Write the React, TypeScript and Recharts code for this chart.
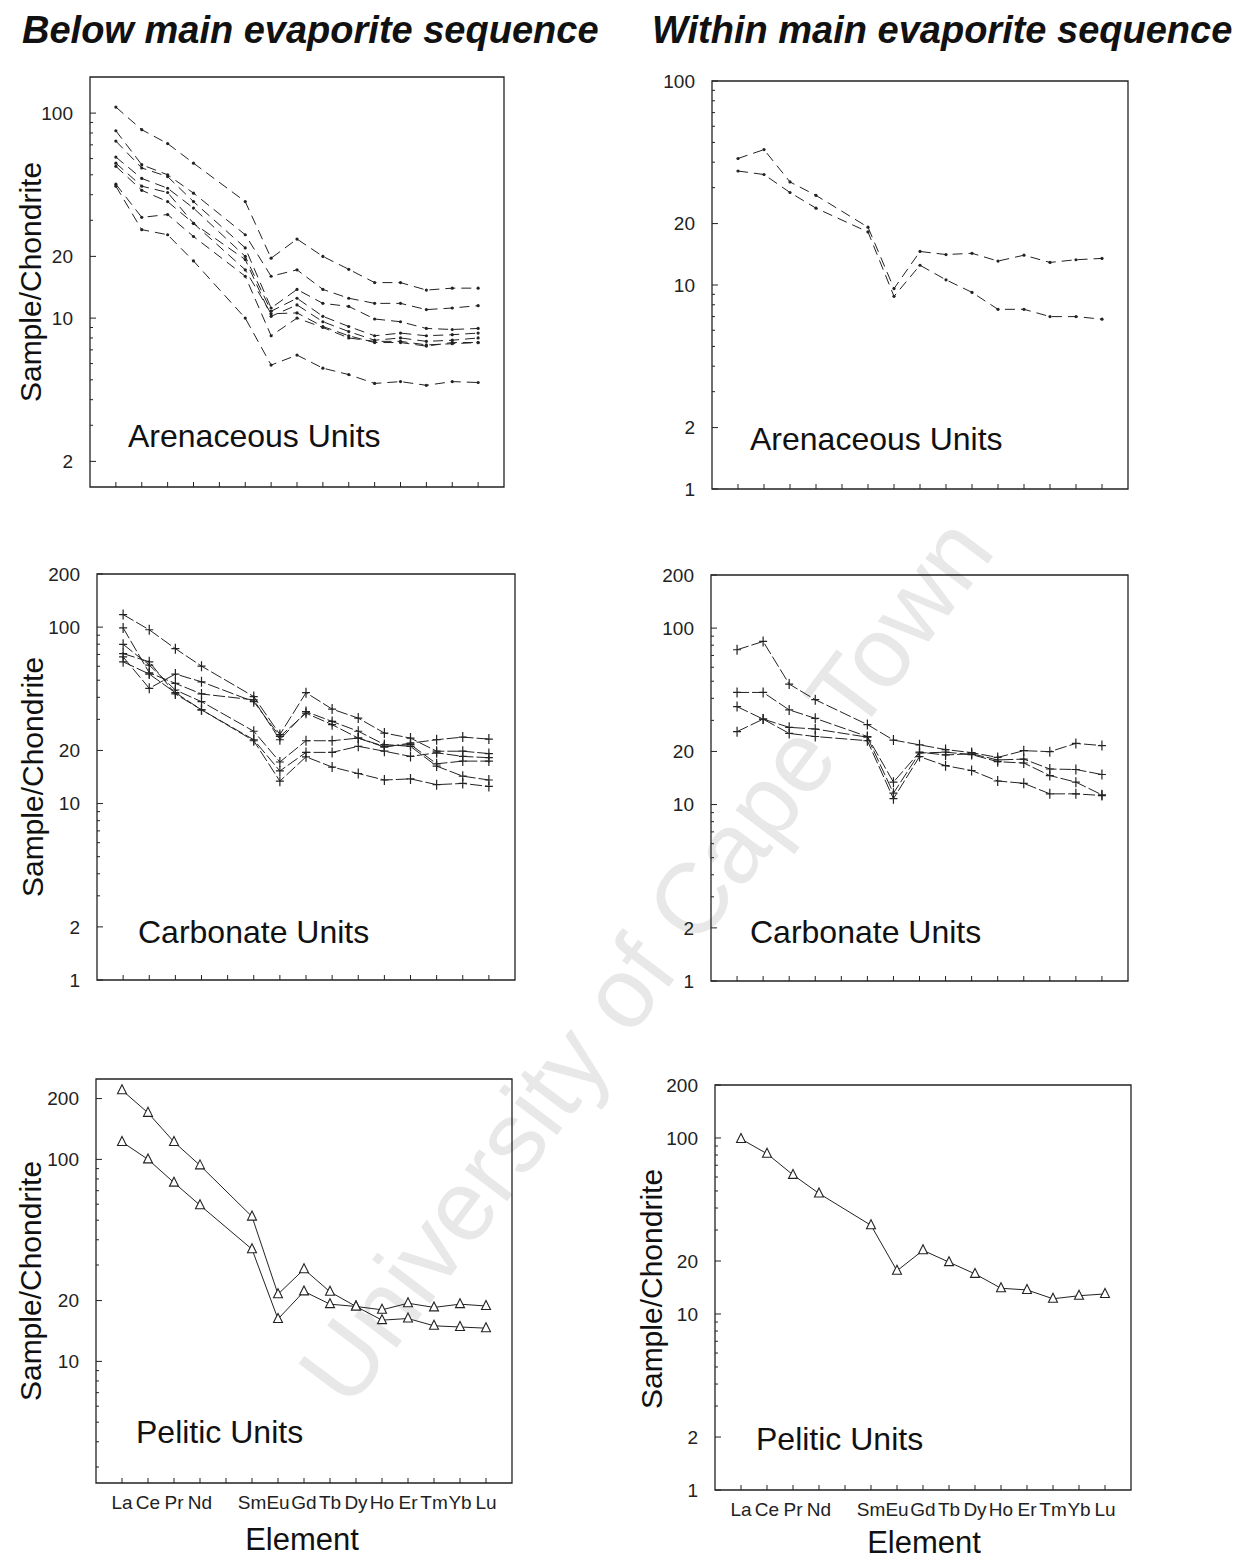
import React from 'react';
import { LineChart, Line, XAxis, YAxis, ReferenceArea } from 'recharts';

const INK = '#222';
const FONT = '"Liberation Sans", Arial, Helvetica, sans-serif';

// axis positions 1..15, Pm has a tick but no label and no data
const TICK_ELEMENTS = ['La', 'Ce', 'Pr', 'Nd', '', 'Sm', 'Eu', 'Gd', 'Tb', 'Dy', 'Ho', 'Er', 'Tm', 'Yb', 'Lu'];
const REE = ['La', 'Ce', 'Pr', 'Nd', 'Sm', 'Eu', 'Gd', 'Tb', 'Dy', 'Ho', 'Er', 'Tm', 'Yb', 'Lu'];
const X_TICKS = [1, 2, 3, 4, 5, 6, 7, 8, 9, 10, 11, 12, 13, 14, 15];

// labelled y ticks per panel
const LABELS_ARENACEOUS_BELOW = [2, 10, 20, 100];
const LABELS_ARENACEOUS_WITHIN = [1, 2, 10, 20, 100];
const LABELS_FULL = [1, 2, 10, 20, 100, 200];
const LABELS_PELITIC_BELOW = [10, 20, 100, 200];

// sample/chondrite, one row per sample, columns follow REE
const belowArenaceous = [
  [107, 83, 71, 57, 37, 19.6, 24.3, 20, 17.3, 14.9, 14.9, 13.7, 14, 14],
  [82, 56, 50, 40.7, 25.5, 16, 17.2, 13.8, 12.5, 11.8, 11.8, 11, 11.2, 11.5],
  [73, 54, 49, 37, 22, 11.2, 13.8, 11.8, 11.4, 9.9, 9.6, 8.9, 8.8, 8.9],
  [61, 48, 43, 34.4, 20, 10.8, 12.5, 10.2, 9.1, 8.2, 8.45, 8.2, 8.3, 8.45],
  [57, 44, 41, 29, 19.3, 10.2, 11.6, 9.6, 8.6, 7.8, 8, 7.7, 7.8, 8],
  [55, 42, 37, 29, 17.2, 10.5, 10.6, 9.1, 8.2, 7.6, 7.6, 7.3, 7.6, 7.6],
  [45, 31, 32, 25, 16, 8.2, 10, 9, 8, 7.7, 7.7, 7.4, 7.5, 7.6],
  [44, 27, 25.5, 19, 10, 5.9, 6.6, 5.7, 5.3, 4.8, 4.9, 4.7, 4.9, 4.85],
];

const withinArenaceous = [
  [41.7, 46.1, 32, 27.5, 19.2, 9.6, 14.6, 14.1, 14.3, 13.1, 14, 12.9, 13.3, 13.5],
  [36.2, 34.8, 28.4, 23.8, 18.2, 8.8, 12.5, 10.6, 9.2, 7.6, 7.6, 7, 7, 6.8],
];

const belowCarbonate = [
  [117.8, 96.6, 75.5, 60.1, 40.4, 24.6, 42.5, 34.3, 30.5, 25.1, 23.5, 19.8, 19.8, 19.2],
  [99, 55.1, 48, 41.8, 38.7, 23, 33.2, 29.2, 25.7, 21.6, 21.1, 16.3, 14.3, 13.6],
  [67.8, 45, 54.2, 49, 37.8, 24, 32.5, 28, 23.5, 21.1, 21.6, 16.8, 17.4, 17.4],
  [79.9, 60.9, 44, 37.8, 25.7, 17.2, 22.7, 22.7, 23.5, 20.9, 22, 23, 23.8, 23.2],
  [70.8, 63.6, 41.8, 34, 23, 15.3, 19.5, 19.5, 21.1, 19.8, 18.5, 19.4, 18.5, 18.2],
  [63.6, 54.2, 42.5, 34, 22.7, 13.4, 18.4, 16.1, 14.8, 13.6, 13.8, 12.8, 13, 12.5],
];

const withinCarbonate = [
  [75.4, 84, 48.2, 39.3, 28.4, 23.2, 21.8, 20.5, 19.7, 18.5, 20.2, 19.95, 22.2, 21.6],
  [43.2, 43.2, 34.4, 30.8, 24.3, 13.4, 19.8, 19.1, 19.4, 17.9, 18.1, 15.9, 15.8, 14.8],
  [35.9, 30.5, 27.4, 26.8, 24.1, 11.6, 19.6, 19.8, 19.2, 17.5, 17.2, 14.6, 13.4, 11.35],
  [25.9, 30.5, 25.3, 24.3, 23, 10.8, 18.7, 16.6, 15.6, 13.6, 13.2, 11.5, 11.5, 11.25],
];

const belowPelitic = [
  [220, 170, 122, 93.4, 52.1, 21.5, 28.6, 22.1, 18.7, 18, 19.4, 18.5, 19.2, 18.8],
  [122, 100, 76.7, 59.3, 35.9, 16.2, 22.2, 19.2, 18.7, 16, 16.3, 15, 14.8, 14.6],
];

const withinPelitic = [
  [98.7, 81.4, 61.7, 48.4, 31.9, 17.6, 23, 19.7, 16.9, 14, 13.7, 12.2, 12.7, 13],
];

function logTicks(domain: number[]) {
  const out: number[] = [];
  [1, 10, 100].forEach((d) => {
    for (let k = 1; k <= 9; k++) {
      const v = d * k;
      if (v >= domain[0] - 1e-9 && v <= domain[1] + 1e-9) out.push(v);
    }
  });
  return out;
}

function YTick(props: any) {
  const { x, y, payload, labels } = props;
  const major = labels.includes(payload.value);
  return (
    <g>
      <line x1={x} x2={x + (major ? 6 : 3)} y1={y} y2={y} stroke={INK} strokeWidth={1} />
      {major && (
        <text x={x - 17} y={y} dy="0.35em" textAnchor="end" fontSize={19} fontFamily={FONT} fill={INK}>
          {payload.value}
        </text>
      )}
    </g>
  );
}

function XTick(props: any) {
  const { x, y, payload, show } = props;
  return (
    <g>
      <line x1={x} x2={x} y1={y} y2={y - 5} stroke={INK} strokeWidth={1} />
      {show && (
        <text x={x} y={y + 19} dy="0.35em" textAnchor="middle" fontSize={19} fontFamily={FONT} fill={INK}>
          {TICK_ELEMENTS[payload.value - 1]}
        </text>
      )}
    </g>
  );
}

function Marker({ cx, cy, kind }: any) {
  if (cx == null || cy == null) return null;
  if (kind === 'plus') {
    return <path d={`M${cx - 4},${cy}h8M${cx},${cy - 5}v10`} stroke={INK} strokeWidth={1.2} fill="none" />;
  }
  if (kind === 'tri') {
    return (
      <path
        d={`M${cx},${cy - 5.5}L${cx + 4.5},${cy + 3.5}L${cx - 4.5},${cy + 3.5}Z`}
        stroke={INK}
        strokeWidth={1.1}
        fill="#fff"
      />
    );
  }
  return <circle cx={cx} cy={cy} r={1.6} fill={INK} />;
}

const DASH: Record<string, string | undefined> = {
  dot: '10 6',
  plus: '12 3',
  tri: undefined,
};

function Panel({ box, domain, labels, series, kind, showElements }: any) {
  const [left, top, w, h] = box;
  const data = REE.map((el, i) => {
    const row: any = { x: TICK_ELEMENTS.indexOf(el) + 1 };
    series.forEach((s: number[], k: number) => {
      row['s' + k] = s[i];
    });
    return row;
  });
  const ticks = logTicks(domain);

  return (
    <div style={{ position: 'absolute', left: left - 80, top: top - 10 }}>
      <LineChart width={w + 90} height={h + 50} data={data} margin={{ top: 10, right: 10, bottom: 0, left: 0 }}>
        <XAxis
          type="number"
          dataKey="x"
          domain={[0, 16]}
          ticks={X_TICKS}
          interval={0}
          allowDataOverflow
          axisLine={false}
          tickLine={false}
          tickSize={0}
          tickMargin={0}
          height={40}
          tick={(p: any) => <XTick {...p} show={showElements} />}
        />
        <YAxis
          type="number"
          scale="log"
          domain={domain}
          allowDataOverflow
          ticks={ticks}
          interval={0}
          axisLine={false}
          tickLine={false}
          tickSize={0}
          tickMargin={0}
          width={80}
          tick={(p: any) => <YTick {...p} labels={labels} />}
        />
        <ReferenceArea
          x1={0}
          x2={16}
          y1={domain[0]}
          y2={domain[1]}
          fill="none"
          fillOpacity={0}
          stroke={INK}
          strokeWidth={1.3}
          ifOverflow="visible"
        />
        {series.map((_: number[], k: number) => (
          <Line
            key={k}
            type="linear"
            dataKey={'s' + k}
            stroke={INK}
            strokeWidth={1}
            strokeDasharray={DASH[kind]}
            dot={(p: any) => <Marker key={p.index} cx={p.cx} cy={p.cy} kind={kind} />}
            activeDot={false}
            isAnimationActive={false}
          />
        ))}
      </LineChart>
    </div>
  );
}

export default function App() {
  const txt = { fontFamily: FONT, fill: '#111' };
  return (
    <div style={{ position: 'absolute', left: 0, top: 0, width: 1240, height: 1562, background: '#fff' }}>
      <svg width={1240} height={1562} style={{ position: 'absolute', left: 0, top: 0 }}>
        <text
          transform="translate(645,960) rotate(-53)"
          textAnchor="middle"
          dy="0.35em"
          fontSize={100}
          fontFamily={FONT}
          fill="#e8e8e8"
        >
          University of Cape Town
        </text>
      </svg>

      <Panel box={[90, 77, 414, 410]} domain={[1.5, 150]} labels={LABELS_ARENACEOUS_BELOW} series={belowArenaceous} kind="dot" />
      <Panel box={[712, 81, 416, 408]} domain={[1, 100]} labels={LABELS_ARENACEOUS_WITHIN} series={withinArenaceous} kind="dot" />
      <Panel box={[97, 574, 418, 406]} domain={[1, 200]} labels={LABELS_FULL} series={belowCarbonate} kind="plus" />
      <Panel box={[711, 575, 417, 406]} domain={[1, 200]} labels={LABELS_FULL} series={withinCarbonate} kind="plus" />
      <Panel box={[96, 1079, 416, 404]} domain={[2.5, 250]} labels={LABELS_PELITIC_BELOW} series={belowPelitic} kind="tri" showElements />
      <Panel box={[715, 1085, 416, 405]} domain={[1, 200]} labels={LABELS_FULL} series={withinPelitic} kind="tri" showElements />

      <svg width={1240} height={1562} style={{ position: 'absolute', left: 0, top: 0, pointerEvents: 'none' }}>
        <text x={22} y={43} fontSize={38} fontWeight="bold" fontStyle="italic" {...txt}>
          Below main evaporite sequence
        </text>
        <text x={652} y={43} fontSize={38} fontWeight="bold" fontStyle="italic" {...txt}>
          Within main evaporite sequence
        </text>

        <text transform="translate(41,282) rotate(-90)" textAnchor="middle" fontSize={30} {...txt}>Sample/Chondrite</text>
        <text transform="translate(43,777) rotate(-90)" textAnchor="middle" fontSize={30} {...txt}>Sample/Chondrite</text>
        <text transform="translate(41,1281) rotate(-90)" textAnchor="middle" fontSize={30} {...txt}>Sample/Chondrite</text>
        <text transform="translate(662,1289) rotate(-90)" textAnchor="middle" fontSize={30} {...txt}>Sample/Chondrite</text>

        <text x={128} y={447} fontSize={32} {...txt}>Arenaceous Units</text>
        <text x={750} y={450} fontSize={32} {...txt}>Arenaceous Units</text>
        <text x={138} y={943} fontSize={32} {...txt}>Carbonate Units</text>
        <text x={750} y={943} fontSize={32} {...txt}>Carbonate Units</text>
        <text x={136} y={1443} fontSize={32} {...txt}>Pelitic Units</text>
        <text x={756} y={1450} fontSize={32} {...txt}>Pelitic Units</text>

        <text x={302} y={1550} textAnchor="middle" fontSize={31} {...txt}>Element</text>
        <text x={924} y={1553} textAnchor="middle" fontSize={31} {...txt}>Element</text>
      </svg>
    </div>
  );
}
